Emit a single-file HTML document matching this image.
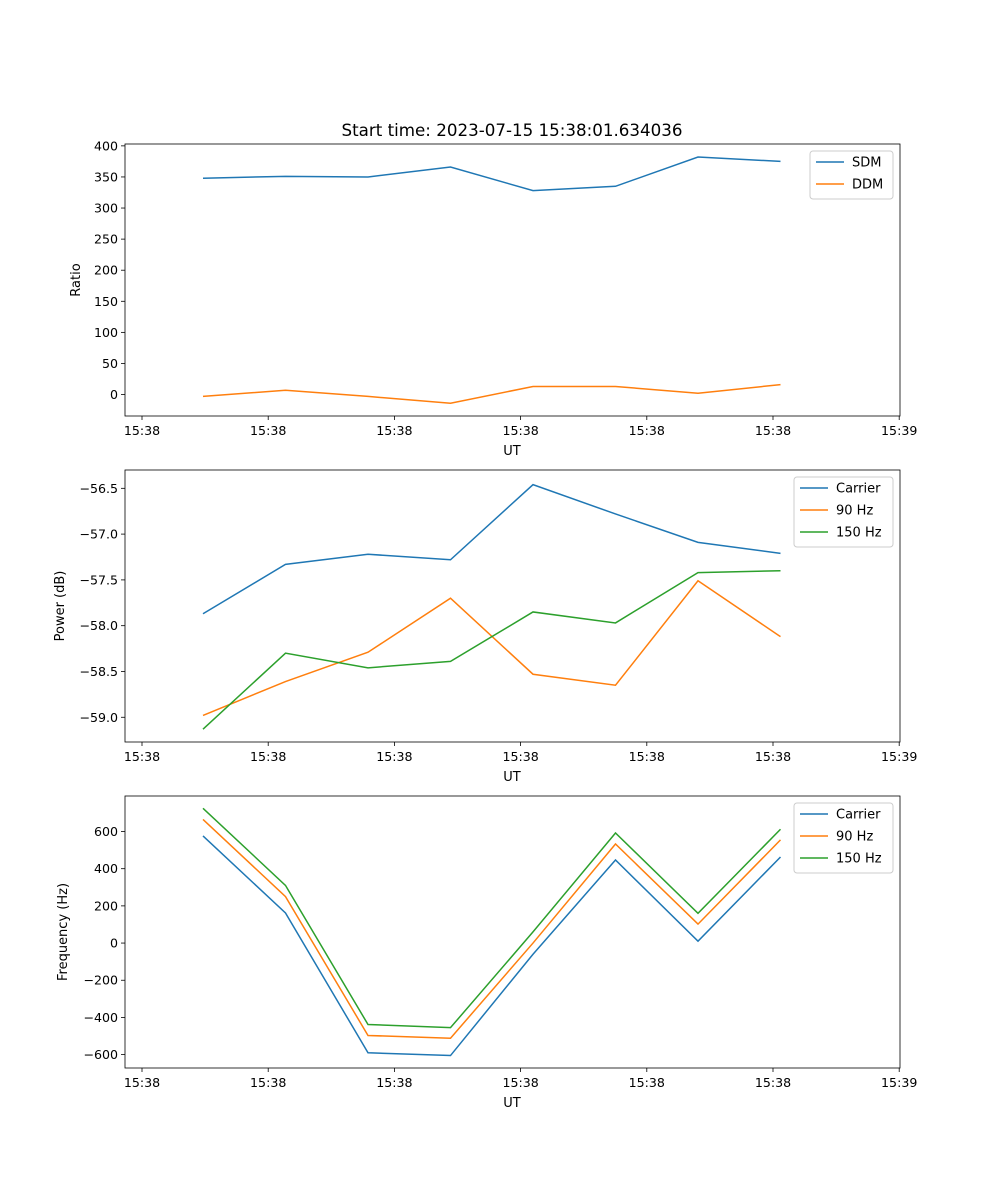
<!DOCTYPE html>
<html><head><meta charset="utf-8"><style>
body{margin:0;background:#fff;}
svg{display:block;font-family:"DejaVu Sans","Liberation Sans",sans-serif;}
</style></head><body>
<svg id="fig" width="1000" height="1200"></svg>
<script>
const xTickLabels=["15:38","15:38","15:38","15:38","15:38","15:38","15:39"];
const sdm=[348,351,350,366,328,335,382,375];
const ddm=[-3,7,-3,-14,13,13,2,16];
const pCarrier=[-57.87,-57.33,-57.22,-57.28,-56.46,-56.78,-57.09,-57.21];
const p90=[-58.98,-58.61,-58.29,-57.70,-58.53,-58.65,-57.51,-58.12];
const p150=[-59.13,-58.30,-58.46,-58.39,-57.85,-57.97,-57.42,-57.40];
const fCarrier=[576,162,-590,-605,-60,447,10,463];
const f90=[665,250,-497,-512,0,533,102,555];
const f150=[725,310,-438,-455,60,592,160,612];
const ticks1=[0,50,100,150,200,250,300,350,400];
const ticks2=[-59.0,-58.5,-58.0,-57.5,-57.0,-56.5];
const ticks3=[-600,-400,-200,0,200,400,600];

const NS="http://www.w3.org/2000/svg";
const svg=document.getElementById('fig');
function mk(t,a,p){const e=document.createElementNS(NS,t);for(const k in a)e.setAttribute(k,a[k]);(p||svg).appendChild(e);return e;}
const L=125,R=900;
const xi=i=>203+i*82.5;
const xt=k=>142+k*126.2;
const C=['#1f77b4','#ff7f0e','#2ca02c'];

const t=mk('text',{x:512,y:136,'text-anchor':'middle','font-size':16.7});
t.textContent='Start time: 2023-07-15 15:38:01.634036';



function panel(name,top,bot,ymin,ymax,ticks,fmt,ylabel,series,names,legend){
  const g=mk('g',{});
  
  
  const y=v=>bot-(v-ymin)/(ymax-ymin)*(bot-top);
  xTickLabels.forEach((lab,k)=>{
    mk('line',{x1:xt(k),x2:xt(k),y1:bot,y2:bot+4,stroke:'#000','stroke-width':0.8},g);
    const tx=mk('text',{x:xt(k),y:bot+19,'text-anchor':'middle','font-size':12.6},g);tx.textContent=lab;
    
    
  });
  ticks.forEach(v=>{
    mk('line',{x1:L-4,x2:L,y1:y(v),y2:y(v),stroke:'#000','stroke-width':0.8},g);
    const tx=mk('text',{x:L-7,y:y(v)+4.5,'text-anchor':'end','font-size':12.6},g);tx.textContent=fmt(v);
    
    
  });
  const xl=mk('text',{x:512,y:bot+39,'text-anchor':'middle','font-size':13},g);xl.textContent='UT';
  
  
  const yc=(top+bot)/2;
  const yl=mk('text',{x:0,y:0,'text-anchor':'middle','font-size':13,transform:`translate(${ylabel[1]},${yc}) rotate(-90)`},g);yl.textContent=ylabel[0];
  
  
  series.forEach((s,j)=>{
    const p=mk('polyline',{points:s.map((v,i)=>xi(i)+','+y(v)).join(' '),fill:'none',stroke:C[j],'stroke-width':1.5},g);
    
    
  });
  mk('rect',{x:L,y:top,width:R-L,height:bot-top,fill:'none',stroke:'#000','stroke-width':0.8},g);
  const lg=mk('g',{},g);
  
  
  mk('rect',{x:legend[0],y:top+7,width:893-legend[0],height:names.length*22+4,rx:3,fill:'#fff',stroke:'#ccc'},lg);
  names.forEach((n,j)=>{
    const ly=top+18+j*22;
    mk('line',{x1:legend[0]+6,x2:legend[0]+34,y1:ly,y2:ly,stroke:C[j],'stroke-width':1.5},lg);
    const tx=mk('text',{x:legend[0]+42,y:ly+4.5,'font-size':13},lg);tx.textContent=n;
    
    
  });
}
panel('ratio-panel',144,416,-34.5,403,ticks1,v=>String(v),['Ratio',80],[sdm,ddm],['SDM','DDM'],[810]);
panel('power-panel',470,742,-59.27,-56.30,ticks2,v=>v.toFixed(1).replace('-','\u2212'),['Power (dB)',64],[pCarrier,p90,p150],['Carrier','90 Hz','150 Hz'],[794]);
panel('frequency-panel',796,1068,-672,791,ticks3,v=>String(v).replace('-','\u2212'),['Frequency (Hz)',67],[fCarrier,f90,f150],['Carrier','90 Hz','150 Hz'],[794]);
</script>
</body></html>
